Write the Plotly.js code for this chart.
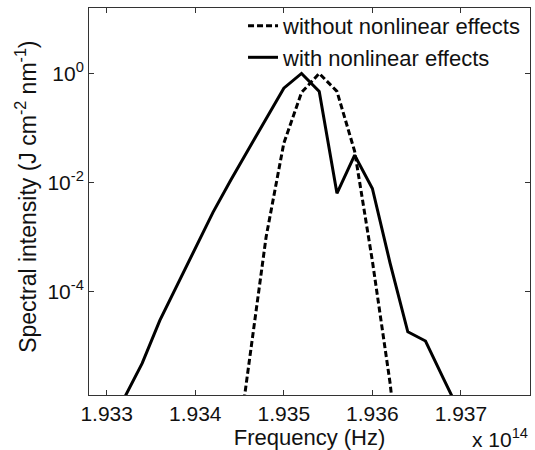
<!DOCTYPE html>
<html>
<head>
<meta charset="utf-8">
<script src="https://cdn.plot.ly/plotly-3.0.1.min.js"></script>
<style>body{margin:0;padding:0;background:#fff;} #chart{width:535px;height:450px;}</style>
</head>
<body>
<div id="chart"></div>
<script>
// Frequency in units of 1e14 Hz
var freqLinear = [1.9344, 1.9346, 1.9348, 1.9350, 1.9352, 1.9354, 1.9356, 1.9358, 1.9360, 1.9362, 1.9364];
var logIntensityLinear = [-7.8, -5.38, -3.0, -1.28, -0.35, 0.0, -0.33, -1.43, -3.44, -5.68, -8.6];

var freqNonlinear = [1.9332, 1.9334, 1.9336, 1.9338, 1.9340, 1.9342, 1.9344, 1.9346, 1.9348, 1.9350,
                     1.9352, 1.9354, 1.9356, 1.9358, 1.9360, 1.9362, 1.9364, 1.9366, 1.9368, 1.9370];
var logIntensityNonlinear = [-5.95, -5.32, -4.53, -3.88, -3.21, -2.55, -1.96, -1.39, -0.82, -0.27,
                             0.0, -0.33, -2.2, -1.5, -2.11, -3.48, -4.74, -4.91, -5.59, -6.26];

var seriesNames = ['without nonlinear effects', 'with nonlinear effects'];
var xTickVals = [1.933, 1.934, 1.935, 1.936, 1.937];
var xTickText = ['1.933', '1.934', '1.935', '1.936', '1.937'];
var yTickVals = [1e-4, 1e-2, 1];
var yTickText = ['10<sup>-4</sup>', '10<sup>-2</sup>', '10<sup>0</sup>'];

function pow10(arr){ return arr.map(function(v){ return Math.pow(10, v); }); }

var FONT = 'Liberation Sans, Arial, sans-serif';

var traces = [
  {x: freqLinear, y: pow10(logIntensityLinear), mode: 'lines', name: seriesNames[0],
   line: {color: '#000', width: 3, dash: '6px,3px'}},
  {x: freqNonlinear, y: pow10(logIntensityNonlinear), mode: 'lines', name: seriesNames[1],
   line: {color: '#000', width: 3}}
];

var axisCommon = {
  showline: true, linecolor: '#333', linewidth: 1, mirror: 'ticks',
  ticks: 'inside', ticklen: 5, tickwidth: 1, tickcolor: '#333',
  showgrid: false, zeroline: false,
  tickfont: {family: FONT, size: 21, color: '#111'}
};

var layout = {
  width: 535, height: 450,
  margin: {l: 89, r: 5, t: 6, b: 55},
  paper_bgcolor: '#fff', plot_bgcolor: '#fff',
  showlegend: true,
  legend: {x: 0.991, xanchor: 'right', y: 1.008, yanchor: 'top', bgcolor: 'rgba(0,0,0,0)',
           font: {family: FONT, size: 22, color: '#111'}, tracegroupgap: 0},
  xaxis: Object.assign({}, axisCommon, {
    range: [1.9328, 1.93778], tickvals: xTickVals, ticktext: xTickText,
    title: {text: 'Frequency (Hz)', font: {family: FONT, size: 22, color: '#111'}, standoff: 0}
  }),
  yaxis: Object.assign({}, axisCommon, {
    type: 'log', range: [-5.9, 1.2], tickvals: yTickVals, ticktext: yTickText
  }),
  annotations: [
    {xref: 'paper', yref: 'paper', x: 1, y: -0.112, xanchor: 'right', yanchor: 'middle',
     text: 'x 10<sup>14</sup>', showarrow: false, font: {family: FONT, size: 21, color: '#111'}},
    {xref: 'paper', yref: 'paper', x: -0.142, y: 0.513, xanchor: 'center', yanchor: 'middle',
     textangle: -90, text: 'Spectral intensity (J cm<sup>-2</sup> nm<sup>-1</sup>)', showarrow: false,
     font: {family: FONT, size: 23, color: '#111'}}
  ]
};

Plotly.newPlot('chart', traces, layout, {displayModeBar: false, staticPlot: true});
</script>
</body>
</html>
